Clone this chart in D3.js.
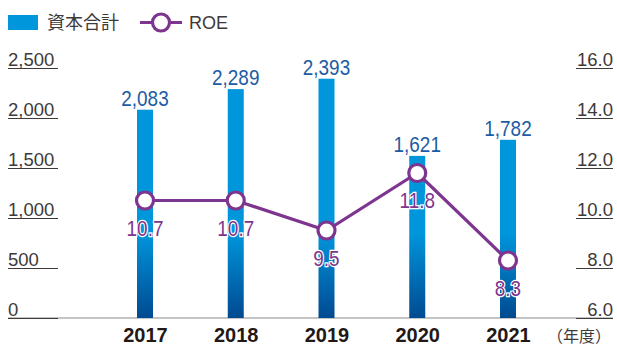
<!DOCTYPE html>
<html>
<head>
<meta charset="utf-8">
<script src="https://cdn.jsdelivr.net/npm/d3@7/dist/d3.min.js"></script>
<style>
  html, body { margin: 0; padding: 0; background: #fff; }
  svg { display: block; }
  text { font-family: "Liberation Sans", Arial, sans-serif; }
</style>
</head>
<body>
<svg id="chart" width="617" height="347"></svg>
<script>
// Fiscal years, total equity (億円) and ROE (%)
const years = ["2017", "2018", "2019", "2020", "2021"];
const equity = [2083, 2289, 2393, 1621, 1782];
const roe = [10.7, 10.7, 9.5, 11.8, 8.3];
const leftTicks = [0, 500, 1000, 1500, 2000, 2500];
const rightTicks = [6, 8, 10, 12, 14, 16];

const svg = d3.select("#chart");
const baseY = 318, topY = 68;

const x = d3.scalePoint().domain(years).range([145, 508]);
const yL = d3.scaleLinear().domain([0, 2500]).range([baseY, topY]);
const yR = d3.scaleLinear().domain([6, 16]).range([baseY, topY]);

const purple = "#7d358f";
const textDark = "#3e3a39";

// vertical gradient shared by all bars (light blue fading into navy near the base)
const defs = svg.append("defs");
const grad = defs.append("linearGradient")
  .attr("id", "barGrad")
  .attr("gradientUnits", "userSpaceOnUse")
  .attr("x1", 0).attr("x2", 0)
  .attr("y1", yL(850)).attr("y2", baseY);
grad.append("stop").attr("offset", "0%").attr("stop-color", "#0096dc");
grad.append("stop").attr("offset", "100%").attr("stop-color", "#004a91");

// baseline across the plot
svg.append("line")
  .attr("x1", 8).attr("x2", 613)
  .attr("y1", baseY).attr("y2", baseY)
  .attr("stroke", "#8c8a89").attr("stroke-width", 1.2);

// left axis: labels sitting on short underlines
const leftAxis = d3.axisLeft(yL).tickValues(leftTicks).tickSize(0).tickFormat(d3.format(","));
const gL = svg.append("g").call(leftAxis);
gL.select(".domain").remove();
gL.selectAll(".tick text")
  .attr("x", 8).attr("dy", -3)
  .attr("text-anchor", "start")
  .attr("fill", textDark)
  .style("font-size", "18.5px")
  .style("font-family", "'Liberation Sans', Arial, sans-serif");
gL.selectAll(".tick").append("line")
  .attr("x1", 8).attr("x2", 58)
  .attr("stroke", textDark).attr("stroke-width", 1.2);

// right axis
const rightAxis = d3.axisRight(yR).tickValues(rightTicks).tickSize(0).tickFormat(d3.format(".1f"));
const gR = svg.append("g").call(rightAxis);
gR.select(".domain").remove();
gR.selectAll(".tick text")
  .attr("x", 613).attr("dy", -3)
  .attr("text-anchor", "end")
  .attr("fill", textDark)
  .style("font-size", "18.5px")
  .style("font-family", "'Liberation Sans', Arial, sans-serif");
gR.selectAll(".tick").append("line")
  .attr("x1", 576).attr("x2", 613)
  .attr("stroke", textDark).attr("stroke-width", 1.2);

// bars
const barW = 16;
svg.append("g").selectAll("rect")
  .data(years)
  .join("rect")
  .attr("x", d => x(d) - barW / 2)
  .attr("y", (d, i) => yL(equity[i]))
  .attr("width", barW)
  .attr("height", (d, i) => baseY - yL(equity[i]))
  .attr("fill", "url(#barGrad)");

// bar value labels
svg.append("g").selectAll("text")
  .data(years)
  .join("text")
  .attr("transform", (d, i) => `translate(${x(d)},${yL(equity[i]) - 4}) scale(0.86,1)`)
  .attr("text-anchor", "middle")
  .attr("fill", "#1b5ca3")
  .style("font-size", "22px")
  .text((d, i) => d3.format(",")(equity[i]));

// ROE line
const line = d3.line().x((d, i) => x(years[i])).y(d => yR(d));
svg.append("path")
  .datum(roe)
  .attr("d", line)
  .attr("fill", "none")
  .attr("stroke", purple)
  .attr("stroke-width", 3.2);

svg.append("g").selectAll("circle")
  .data(roe)
  .join("circle")
  .attr("cx", (d, i) => x(years[i]))
  .attr("cy", d => yR(d))
  .attr("r", 8.5)
  .attr("fill", "#fff")
  .attr("stroke", purple)
  .attr("stroke-width", 3.2);

// ROE value labels with a white halo
svg.append("g").selectAll("text")
  .data(roe)
  .join("text")
  .attr("transform", (d, i) => `translate(${x(years[i])},${yR(d) + 35}) scale(0.86,1)`)
  .attr("text-anchor", "middle")
  .attr("fill", purple)
  .attr("stroke", "#fff")
  .attr("stroke-width", 2.5)
  .attr("paint-order", "stroke")
  .style("font-size", "22px")
  .text(d => d3.format(".1f")(d));

// category axis
const xAxis = d3.axisBottom(x).tickSize(0);
const gX = svg.append("g").attr("transform", `translate(0,${baseY})`).call(xAxis);
gX.select(".domain").remove();
gX.selectAll(".tick text")
  .attr("y", 24).attr("dy", 0)
  .attr("fill", "#231815")
  .style("font-size", "20px")
  .style("font-weight", "bold")
  .style("font-family", "'Liberation Sans', Arial, sans-serif");

svg.append("text")
  .attr("x", 611).attr("y", 342)
  .attr("text-anchor", "end")
  .attr("fill", textDark)
  .style("font-size", "16px")
  .style("font-family", "'Noto Sans CJK JP', sans-serif")
  .text("（年度）");

// legend
svg.append("rect").attr("x", 8).attr("y", 15).attr("width", 30).attr("height", 15).attr("fill", "#0096dc");
svg.append("text").attr("x", 47).attr("y", 29)
  .attr("fill", textDark)
  .style("font-size", "18px")
  .style("font-family", "'Noto Sans CJK JP', sans-serif")
  .text("資本合計");
svg.append("line").attr("x1", 140).attr("x2", 182).attr("y1", 22.5).attr("y2", 22.5)
  .attr("stroke", purple).attr("stroke-width", 3.2);
svg.append("circle").attr("cx", 161).attr("cy", 22.5).attr("r", 8.5)
  .attr("fill", "#fff").attr("stroke", purple).attr("stroke-width", 3.2);
svg.append("text").attr("x", 189).attr("y", 29)
  .attr("fill", textDark)
  .style("font-size", "18px")
  .text("ROE");
</script>
</body>
</html>
